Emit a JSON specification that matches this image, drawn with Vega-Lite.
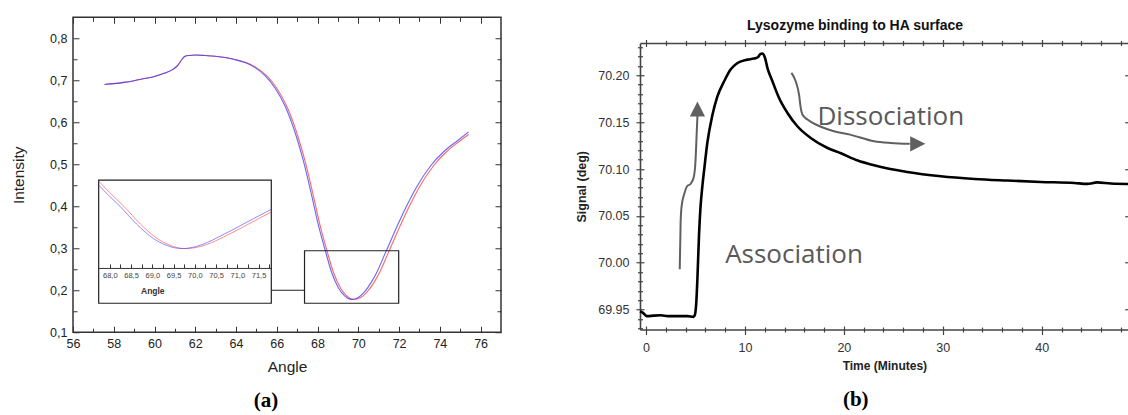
{
 "$schema": "https://vega.github.io/schema/vega-lite/v6.json",
 "background": "white",
 "padding": {"left": 11, "top": 15.25, "right": 0, "bottom": 0},
 "spacing": 72,
 "config": {
  "font": "Liberation Sans",
  "view": {"stroke": null},
  "axis": {"grid": false, "tickColor": "#333", "domainColor": "#333", "labelFlush": false, "labelOverlap": false, "labelBound": false}
 },
 "datasets": {
  "spr": [
   {"series": "red", "angle": 57.55, "intensity": 0.690},
   {"series": "red", "angle": 58.0, "intensity": 0.692},
   {"series": "red", "angle": 58.5, "intensity": 0.695},
   {"series": "red", "angle": 59.0, "intensity": 0.699},
   {"series": "red", "angle": 59.5, "intensity": 0.704},
   {"series": "red", "angle": 60.0, "intensity": 0.709},
   {"series": "red", "angle": 60.5, "intensity": 0.717},
   {"series": "red", "angle": 60.9, "intensity": 0.726},
   {"series": "red", "angle": 61.15, "intensity": 0.736},
   {"series": "red", "angle": 61.35, "intensity": 0.750},
   {"series": "red", "angle": 61.5, "intensity": 0.757},
   {"series": "red", "angle": 61.7, "intensity": 0.759},
   {"series": "red", "angle": 62.0, "intensity": 0.760},
   {"series": "red", "angle": 62.5, "intensity": 0.759},
   {"series": "red", "angle": 63.0, "intensity": 0.757},
   {"series": "red", "angle": 63.5, "intensity": 0.754},
   {"series": "red", "angle": 64.0, "intensity": 0.749},
   {"series": "red", "angle": 64.5, "intensity": 0.742},
   {"series": "red", "angle": 65.0, "intensity": 0.730},
   {"series": "red", "angle": 65.5, "intensity": 0.711},
   {"series": "red", "angle": 66.0, "intensity": 0.681},
   {"series": "red", "angle": 66.5, "intensity": 0.637},
   {"series": "red", "angle": 67.0, "intensity": 0.572},
   {"series": "red", "angle": 67.4, "intensity": 0.505},
   {"series": "red", "angle": 67.85, "intensity": 0.413},
   {"series": "red", "angle": 68.13, "intensity": 0.353},
   {"series": "red", "angle": 68.46, "intensity": 0.294},
   {"series": "red", "angle": 68.79, "intensity": 0.241},
   {"series": "red", "angle": 69.12, "intensity": 0.206},
   {"series": "red", "angle": 69.44, "intensity": 0.186},
   {"series": "red", "angle": 69.77, "intensity": 0.178},
   {"series": "red", "angle": 70.1, "intensity": 0.182},
   {"series": "red", "angle": 70.43, "intensity": 0.196},
   {"series": "red", "angle": 70.75, "intensity": 0.217},
   {"series": "red", "angle": 71.08, "intensity": 0.246},
   {"series": "red", "angle": 71.44, "intensity": 0.286},
   {"series": "red", "angle": 71.9, "intensity": 0.337},
   {"series": "red", "angle": 72.4, "intensity": 0.390},
   {"series": "red", "angle": 73.0, "intensity": 0.446},
   {"series": "red", "angle": 73.7, "intensity": 0.497},
   {"series": "red", "angle": 74.35, "intensity": 0.531},
   {"series": "red", "angle": 75.0, "intensity": 0.556},
   {"series": "red", "angle": 75.41, "intensity": 0.571},
   {"series": "blue", "angle": 57.55, "intensity": 0.690},
   {"series": "blue", "angle": 58.0, "intensity": 0.692},
   {"series": "blue", "angle": 58.5, "intensity": 0.695},
   {"series": "blue", "angle": 59.0, "intensity": 0.699},
   {"series": "blue", "angle": 59.5, "intensity": 0.704},
   {"series": "blue", "angle": 60.0, "intensity": 0.709},
   {"series": "blue", "angle": 60.5, "intensity": 0.717},
   {"series": "blue", "angle": 60.9, "intensity": 0.726},
   {"series": "blue", "angle": 61.15, "intensity": 0.736},
   {"series": "blue", "angle": 61.35, "intensity": 0.750},
   {"series": "blue", "angle": 61.5, "intensity": 0.757},
   {"series": "blue", "angle": 61.7, "intensity": 0.759},
   {"series": "blue", "angle": 62.0, "intensity": 0.760},
   {"series": "blue", "angle": 62.45, "intensity": 0.759},
   {"series": "blue", "angle": 62.95, "intensity": 0.757},
   {"series": "blue", "angle": 63.45, "intensity": 0.754},
   {"series": "blue", "angle": 63.95, "intensity": 0.749},
   {"series": "blue", "angle": 64.44, "intensity": 0.742},
   {"series": "blue", "angle": 64.93, "intensity": 0.730},
   {"series": "blue", "angle": 65.42, "intensity": 0.711},
   {"series": "blue", "angle": 65.92, "intensity": 0.681},
   {"series": "blue", "angle": 66.42, "intensity": 0.637},
   {"series": "blue", "angle": 66.92, "intensity": 0.572},
   {"series": "blue", "angle": 67.32, "intensity": 0.505},
   {"series": "blue", "angle": 67.77, "intensity": 0.413},
   {"series": "blue", "angle": 68.05, "intensity": 0.353},
   {"series": "blue", "angle": 68.38, "intensity": 0.294},
   {"series": "blue", "angle": 68.70, "intensity": 0.241},
   {"series": "blue", "angle": 69.02, "intensity": 0.206},
   {"series": "blue", "angle": 69.34, "intensity": 0.186},
   {"series": "blue", "angle": 69.67, "intensity": 0.178},
   {"series": "blue", "angle": 69.98, "intensity": 0.182},
   {"series": "blue", "angle": 70.3, "intensity": 0.196},
   {"series": "blue", "angle": 70.61, "intensity": 0.217},
   {"series": "blue", "angle": 70.94, "intensity": 0.246},
   {"series": "blue", "angle": 71.3, "intensity": 0.286},
   {"series": "blue", "angle": 71.76, "intensity": 0.337},
   {"series": "blue", "angle": 72.26, "intensity": 0.390},
   {"series": "blue", "angle": 72.86, "intensity": 0.446},
   {"series": "blue", "angle": 73.56, "intensity": 0.497},
   {"series": "blue", "angle": 74.21, "intensity": 0.531},
   {"series": "blue", "angle": 74.86, "intensity": 0.556},
   {"series": "blue", "angle": 75.41, "intensity": 0.577}
  ],
  "inset": [
   {"series": "red", "angle": 67.74, "intensity": 0.436},
   {"series": "red", "angle": 68.0, "intensity": 0.392},
   {"series": "red", "angle": 68.33, "intensity": 0.340},
   {"series": "red", "angle": 68.72, "intensity": 0.272},
   {"series": "red", "angle": 69.12, "intensity": 0.216},
   {"series": "red", "angle": 69.4, "intensity": 0.192},
   {"series": "red", "angle": 69.6, "intensity": 0.181},
   {"series": "red", "angle": 69.78, "intensity": 0.178},
   {"series": "red", "angle": 69.95, "intensity": 0.180},
   {"series": "red", "angle": 70.13, "intensity": 0.1857},
   {"series": "red", "angle": 70.4, "intensity": 0.201},
   {"series": "red", "angle": 70.68, "intensity": 0.2225},
   {"series": "red", "angle": 71.0, "intensity": 0.249},
   {"series": "red", "angle": 71.24, "intensity": 0.270},
   {"series": "red", "angle": 71.5, "intensity": 0.2925},
   {"series": "red", "angle": 71.8, "intensity": 0.3184},
   {"series": "blue", "angle": 67.74, "intensity": 0.421},
   {"series": "blue", "angle": 67.91, "intensity": 0.392},
   {"series": "blue", "angle": 68.24, "intensity": 0.340},
   {"series": "blue", "angle": 68.63, "intensity": 0.272},
   {"series": "blue", "angle": 69.03, "intensity": 0.216},
   {"series": "blue", "angle": 69.31, "intensity": 0.192},
   {"series": "blue", "angle": 69.52, "intensity": 0.181},
   {"series": "blue", "angle": 69.71, "intensity": 0.178},
   {"series": "blue", "angle": 69.86, "intensity": 0.180},
   {"series": "blue", "angle": 70.03, "intensity": 0.1857},
   {"series": "blue", "angle": 70.29, "intensity": 0.201},
   {"series": "blue", "angle": 70.56, "intensity": 0.2225},
   {"series": "blue", "angle": 70.88, "intensity": 0.249},
   {"series": "blue", "angle": 71.12, "intensity": 0.270},
   {"series": "blue", "angle": 71.38, "intensity": 0.2925},
   {"series": "blue", "angle": 71.68, "intensity": 0.3184},
   {"series": "blue", "angle": 71.8, "intensity": 0.329}
  ],
  "boxes": [
   {"x1": 57.26, "x2": 65.73, "y1": 0.169, "y2": 0.462},
   {"x1": 67.36, "x2": 71.98, "y1": 0.169, "y2": 0.294}
  ],
  "link": [
   {"x1": 65.73, "x2": 67.36, "y": 0.2}
  ],
  "signal": [
   {"t": -0.6, "s": 69.9482},
   {"t": -0.3, "s": 69.9465},
   {"t": 0.1, "s": 69.943},
   {"t": 0.8, "s": 69.9436},
   {"t": 1.5, "s": 69.9439},
   {"t": 2.2, "s": 69.943},
   {"t": 3.0, "s": 69.943},
   {"t": 4.2, "s": 69.943},
   {"t": 4.8, "s": 69.9422},
   {"t": 4.95, "s": 69.9447},
   {"t": 5.09, "s": 69.9589},
   {"t": 5.2, "s": 69.984},
   {"t": 5.36, "s": 70.03},
   {"t": 5.5, "s": 70.058},
   {"t": 5.7, "s": 70.082},
   {"t": 5.9, "s": 70.101},
   {"t": 6.2, "s": 70.128},
   {"t": 6.7, "s": 70.157},
   {"t": 7.2, "s": 70.177},
   {"t": 7.9, "s": 70.1936},
   {"t": 8.55, "s": 70.2061},
   {"t": 9.25, "s": 70.2131},
   {"t": 10.25, "s": 70.2167},
   {"t": 10.9, "s": 70.2178},
   {"t": 11.3, "s": 70.2192},
   {"t": 11.55, "s": 70.2225},
   {"t": 11.75, "s": 70.2232},
   {"t": 12.0, "s": 70.2195},
   {"t": 12.27, "s": 70.208},
   {"t": 12.78, "s": 70.1936},
   {"t": 13.45, "s": 70.1758},
   {"t": 14.3, "s": 70.1598},
   {"t": 15.3, "s": 70.1456},
   {"t": 16.65, "s": 70.1331},
   {"t": 18.35, "s": 70.1224},
   {"t": 19.7, "s": 70.1168},
   {"t": 21.4, "s": 70.109},
   {"t": 23.05, "s": 70.104},
   {"t": 26.4, "s": 70.0968},
   {"t": 29.8, "s": 70.0922},
   {"t": 33.2, "s": 70.0894},
   {"t": 36.5, "s": 70.0877},
   {"t": 39.9, "s": 70.0862},
   {"t": 43.3, "s": 70.0851},
   {"t": 44.6, "s": 70.0841},
   {"t": 45.6, "s": 70.0857},
   {"t": 47.0, "s": 70.0845},
   {"t": 49.0, "s": 70.084}
  ],
  "arrows": [
   {"arrow": "association", "t": 3.41, "s": 69.993},
   {"arrow": "association", "t": 3.5, "s": 70.044},
   {"arrow": "association", "t": 3.62, "s": 70.062},
   {"arrow": "association", "t": 3.85, "s": 70.0727},
   {"arrow": "association", "t": 4.15, "s": 70.0816},
   {"arrow": "association", "t": 4.5, "s": 70.084},
   {"arrow": "association", "t": 4.82, "s": 70.091},
   {"arrow": "association", "t": 5.0, "s": 70.108},
   {"arrow": "association", "t": 5.12, "s": 70.137},
   {"arrow": "association", "t": 5.2, "s": 70.157},
   {"arrow": "dissociation", "t": 14.7, "s": 70.2025},
   {"arrow": "dissociation", "t": 15.13, "s": 70.1936},
   {"arrow": "dissociation", "t": 15.47, "s": 70.1794},
   {"arrow": "dissociation", "t": 15.64, "s": 70.1651},
   {"arrow": "dissociation", "t": 15.81, "s": 70.1581},
   {"arrow": "dissociation", "t": 16.32, "s": 70.1527},
   {"arrow": "dissociation", "t": 17.33, "s": 70.1467},
   {"arrow": "dissociation", "t": 19.0, "s": 70.1403},
   {"arrow": "dissociation", "t": 20.62, "s": 70.1367},
   {"arrow": "dissociation", "t": 23.05, "s": 70.1296},
   {"arrow": "dissociation", "t": 24.74, "s": 70.1278},
   {"arrow": "dissociation", "t": 26.66, "s": 70.1269}
  ],
  "heads": [
   {"arrow": "up", "t": 5.2, "s": 70.164},
   {"arrow": "right", "t": 27.47, "s": 70.1269}
  ],
  "notes": [
   {"label": "Association", "t": 8.0, "s": 70.0},
   {"label": "Dissociation", "t": 17.33, "s": 70.1474}
  ]
 },
 "hconcat": [
  {
   "width": 428,
   "height": 315,
   "view": {"stroke": "#333", "strokeWidth": 1.5},
   "title": {"text": "(a)", "orient": "bottom", "anchor": "middle", "frame": "group", "dx": -21, "offset": 15, "font": "Liberation Serif", "fontSize": 21, "fontWeight": "bold", "color": "#000"},
   "resolve": {"scale": {"x": "independent", "y": "independent"}},
   "layer": [
    {
     "resolve": {"axis": {"x": "independent", "y": "independent"}},
     "layer": [
      {
       "data": {"name": "spr"},
       "transform": [{"filter": "datum.series === 'red'"}],
       "mark": {"type": "line", "color": "#ff4040", "strokeWidth": 1.1, "opacity": 0.8, "interpolate": "monotone"},
       "encoding": {
        "x": {"field": "angle", "type": "quantitative", "scale": {"domain": [56, 77], "nice": false, "zero": false},
         "axis": {"orient": "bottom", "values": [56, 58, 60, 62, 64, 66, 68, 70, 72, 74, 76], "domain": false, "offset": -6, "tickSize": 6, "labelPadding": 5, "labelFontSize": 12.5, "labelColor": "#222", "title": "Angle", "titleFontSize": 15.5, "titleFontWeight": "normal", "titleColor": "#222", "titlePadding": 10}},
        "y": {"field": "intensity", "type": "quantitative", "scale": {"domain": [0.1, 0.85], "nice": false, "zero": false},
         "axis": {"orient": "left", "values": [0.1, 0.2, 0.3, 0.4, 0.5, 0.6, 0.7, 0.8], "domain": false, "offset": -6, "tickSize": 6, "labelPadding": 6, "labelExpr": "replace(format(datum.value, '.1f'), '.', ',')", "labelFontSize": 12.5, "labelColor": "#222", "title": "Intensity", "titleFontSize": 15.5, "titleFontWeight": "normal", "titleColor": "#222", "titlePadding": 22.7}}
       }
      },
      {
       "data": {"name": "spr"},
       "transform": [{"filter": "datum.series === 'blue'"}],
       "mark": {"type": "line", "color": "#4040ff", "strokeWidth": 1.1, "opacity": 0.8, "interpolate": "monotone"},
       "encoding": {
        "x": {"field": "angle", "type": "quantitative", "scale": {"domain": [56, 77], "nice": false, "zero": false},
         "axis": {"orient": "bottom", "values": [57, 59, 61, 63, 65, 67, 69, 71, 73, 75], "domain": false, "offset": -4, "tickSize": 4, "labels": false, "title": null}},
        "y": {"field": "intensity", "type": "quantitative", "scale": {"domain": [0.1, 0.85], "nice": false, "zero": false},
         "axis": {"orient": "left", "values": [0.15, 0.25, 0.35, 0.45, 0.55, 0.65, 0.75], "domain": false, "offset": -4, "tickSize": 4, "labels": false, "title": null}}
       }
      },
      {
       "data": {"name": "boxes"},
       "mark": {"type": "rect", "fill": "white", "fillOpacity": 0, "stroke": "#222", "strokeWidth": 1.2},
       "encoding": {
        "x": {"field": "x1", "type": "quantitative", "scale": {"domain": [56, 77], "nice": false, "zero": false},
         "axis": {"orient": "top", "values": [56, 58, 60, 62, 64, 66, 68, 70, 72, 74, 76], "domain": false, "offset": -6, "tickSize": 6, "labels": false, "title": null}},
        "x2": {"field": "x2"},
        "y": {"field": "y1", "type": "quantitative", "scale": {"domain": [0.1, 0.85], "nice": false, "zero": false},
         "axis": {"orient": "right", "values": [0.1, 0.2, 0.3, 0.4, 0.5, 0.6, 0.7, 0.8], "domain": false, "offset": -6, "tickSize": 6, "labels": false, "title": null}},
        "y2": {"field": "y2"}
       }
      },
      {
       "data": {"name": "link"},
       "mark": {"type": "rule", "color": "#222", "strokeWidth": 1.2},
       "encoding": {
        "x": {"field": "x1", "type": "quantitative", "scale": {"domain": [56, 77], "nice": false, "zero": false},
         "axis": {"orient": "top", "values": [57, 59, 61, 63, 65, 67, 69, 71, 73, 75], "domain": false, "offset": -4, "tickSize": 4, "labels": false, "title": null}},
        "x2": {"field": "x2"},
        "y": {"field": "y", "type": "quantitative", "scale": {"domain": [0.1, 0.85], "nice": false, "zero": false},
         "axis": {"orient": "right", "values": [0.15, 0.25, 0.35, 0.45, 0.55, 0.65, 0.75], "domain": false, "offset": -4, "tickSize": 4, "labels": false, "title": null}}
       }
      }
     ]
    },
    {
     "resolve": {"axis": {"x": "independent"}},
     "layer": [
      {
       "data": {"name": "inset"},
       "transform": [{"filter": "datum.series === 'red'"}],
       "mark": {"type": "line", "color": "#ff4040", "strokeWidth": 1, "opacity": 0.6, "interpolate": "monotone"},
       "encoding": {
        "x": {"field": "angle", "type": "quantitative", "scale": {"domain": [67.736, 71.8], "range": [25.6, 198.3], "nice": false, "zero": false},
         "axis": {"orient": "bottom", "offset": -64.3, "values": [68, 68.5, 69, 69.5, 70, 70.5, 71, 71.5], "domain": true, "domainColor": "#333", "domainWidth": 1, "ticks": false, "labelPadding": 4, "labelFontSize": 7.5, "labelColor": "#444", "labelExpr": "replace(format(datum.value, '.1f'), '.', ',')", "title": "Angle", "titleFontSize": 8.5, "titleFontWeight": "bold", "titleColor": "#333", "titleX": 79.3, "titleY": 22.6, "titleAlign": "center", "titleBaseline": "middle"}},
        "y": {"field": "intensity", "type": "quantitative", "scale": {"domain": [0.1036, 0.44], "range": [250.7, 163], "nice": false, "zero": false}, "axis": null}
       }
      },
      {
       "data": {"name": "inset"},
       "transform": [{"filter": "datum.series === 'blue'"}],
       "mark": {"type": "line", "color": "#4040ff", "strokeWidth": 1, "opacity": 0.6, "interpolate": "monotone"},
       "encoding": {
        "x": {"field": "angle", "type": "quantitative", "scale": {"domain": [67.736, 71.8], "range": [25.6, 198.3], "nice": false, "zero": false},
         "axis": {"orient": "bottom", "offset": -68.3, "values": [68, 68.25, 68.5, 68.75, 69, 69.25, 69.5, 69.75, 70, 70.25, 70.5, 70.75, 71, 71.25, 71.5, 71.75], "domain": false, "tickSize": 4, "labels": false, "title": null}},
        "y": {"field": "intensity", "type": "quantitative", "scale": {"domain": [0.1036, 0.44], "range": [250.7, 163], "nice": false, "zero": false}, "axis": null}
       }
      }
     ]
    }
   ]
  },
  {
   "width": 488.7,
   "height": 312.3,
   "title": {"text": "(b)", "orient": "bottom", "anchor": "middle", "frame": "group", "dx": -28.6, "offset": 18, "font": "Liberation Serif", "fontSize": 21, "fontWeight": "bold", "color": "#000"},
   "resolve": {"axis": {"x": "independent", "y": "independent"}},
   "layer": [
    {
     "data": {"name": "signal"},
     "mark": {"type": "line", "color": "#000", "strokeWidth": 2.6, "interpolate": "monotone"},
     "encoding": {
      "x": {"field": "t", "type": "quantitative", "scale": {"domain": [-0.607, 48.79], "nice": false, "zero": false},
       "axis": {"orient": "bottom", "values": [0, 10, 20, 30, 40], "domain": true, "domainColor": "#444", "domainWidth": 1.6, "ticks": false, "labelPadding": 12, "labelFontSize": 12.5, "labelColor": "#333", "title": "Time (Minutes)", "titleFontSize": 12, "titleFontWeight": "bold", "titleColor": "#222", "titlePadding": 6}},
      "y": {"field": "s", "type": "quantitative", "scale": {"domain": [69.9287, 70.2345], "range": [312.3, 25.7], "nice": false, "zero": false},
       "axis": {"orient": "left", "values": [69.95, 70, 70.05, 70.1, 70.15, 70.2], "format": ".2f", "domain": true, "domainColor": "#444", "domainWidth": 1.6, "ticks": false, "labelPadding": 11, "labelFontSize": 12.5, "labelColor": "#333", "title": "Signal (deg)", "titleFontSize": 12.5, "titleFontWeight": "bold", "titleColor": "#222", "titlePadding": 9}}
     }
    },
    {
     "data": {"name": "arrows"},
     "transform": [{"filter": "datum.arrow === 'association'"}],
     "mark": {"type": "line", "color": "#606060", "strokeWidth": 2, "interpolate": "monotone"},
     "encoding": {
      "x": {"field": "t", "type": "quantitative", "scale": {"domain": [-0.607, 48.79], "nice": false, "zero": false},
       "axis": {"orient": "bottom", "values": [0, 10, 20, 30, 40], "domain": false, "offset": -3.5, "tickSize": 8.5, "tickColor": "#444", "tickWidth": 1.2, "labels": false, "title": null}},
      "y": {"field": "s", "type": "quantitative", "scale": {"domain": [69.9287, 70.2345], "range": [312.3, 25.7], "nice": false, "zero": false},
       "axis": {"orient": "left", "values": [69.95, 70, 70.05, 70.1, 70.15, 70.2], "domain": false, "offset": -4, "tickSize": 8, "tickColor": "#444", "tickWidth": 1.2, "labels": false, "title": null}}
     }
    },
    {
     "data": {"name": "arrows"},
     "transform": [{"filter": "datum.arrow === 'dissociation'"}],
     "mark": {"type": "line", "color": "#606060", "strokeWidth": 2, "interpolate": "monotone"},
     "encoding": {
      "x": {"field": "t", "type": "quantitative", "scale": {"domain": [-0.607, 48.79], "nice": false, "zero": false},
       "axis": {"orient": "bottom", "values": [2, 4, 6, 8, 12, 14, 16, 18, 22, 24, 26, 28, 32, 34, 36, 38, 42, 44, 46, 48], "domain": false, "offset": -2.5, "tickSize": 5, "tickColor": "#444", "tickWidth": 1.2, "labels": false, "title": null}},
      "y": {"field": "s", "type": "quantitative", "scale": {"domain": [69.9287, 70.2345], "range": [312.3, 25.7], "nice": false, "zero": false},
       "axis": {"orient": "left", "values": [69.93, 69.94, 69.96, 69.97, 69.98, 69.99, 70.01, 70.02, 70.03, 70.04, 70.06, 70.07, 70.08, 70.09, 70.11, 70.12, 70.13, 70.14, 70.16, 70.17, 70.18, 70.19, 70.21, 70.22, 70.23], "domain": false, "offset": -2.5, "tickSize": 5, "tickColor": "#444", "tickWidth": 1.2, "labels": false, "title": null}}
     }
    },
    {
     "data": {"name": "heads"},
     "mark": {"type": "point", "filled": true, "color": "#606060", "size": 230, "opacity": 1},
     "encoding": {
      "x": {"field": "t", "type": "quantitative", "scale": {"domain": [-0.607, 48.79], "nice": false, "zero": false},
       "axis": {"orient": "top", "offset": -25.7, "domain": true, "domainColor": "#444", "domainWidth": 1.6, "ticks": false, "labels": false, "title": "Lysozyme binding to HA surface", "titleFontSize": 14, "titleFontWeight": "bold", "titleColor": "#111", "titleX": 214.5, "titleY": -17.4, "titleAlign": "center", "titleBaseline": "middle"}},
      "y": {"field": "s", "type": "quantitative", "scale": {"domain": [69.9287, 70.2345], "range": [312.3, 25.7], "nice": false, "zero": false},
       "axis": {"orient": "right", "values": [69.95, 70, 70.05, 70.1, 70.15, 70.2], "domain": false, "offset": -4, "tickSize": 8, "tickColor": "#444", "tickWidth": 1.2, "labels": false, "title": null}},
      "shape": {"field": "arrow", "type": "nominal", "scale": {"domain": ["up", "right"], "range": ["M-1,1L0,-1L1,1Z", "M-1,-1L1,0L-1,1Z"]}, "legend": null}
     }
    },
    {
     "data": {"name": "notes"},
     "transform": [{"filter": "datum.label === 'Association'"}],
     "mark": {"type": "text", "align": "left", "baseline": "alphabetic", "font": "Open Sans", "fontSize": 26, "color": "#595959"},
     "encoding": {
      "x": {"field": "t", "type": "quantitative", "scale": {"domain": [-0.607, 48.79], "nice": false, "zero": false},
       "axis": {"orient": "top", "values": [0, 10, 20, 30, 40], "domain": false, "offset": -29.2, "tickSize": 7, "tickColor": "#444", "tickWidth": 1.2, "labels": false, "title": null}},
      "y": {"field": "s", "type": "quantitative", "scale": {"domain": [69.9287, 70.2345], "range": [312.3, 25.7], "nice": false, "zero": false}, "axis": null},
      "text": {"field": "label"}
     }
    },
    {
     "data": {"name": "notes"},
     "transform": [{"filter": "datum.label === 'Dissociation'"}],
     "mark": {"type": "text", "align": "left", "baseline": "alphabetic", "font": "Open Sans", "fontSize": 26, "color": "#595959"},
     "encoding": {
      "x": {"field": "t", "type": "quantitative", "scale": {"domain": [-0.607, 48.79], "nice": false, "zero": false},
       "axis": {"orient": "top", "values": [2, 4, 6, 8, 12, 14, 16, 18, 22, 24, 26, 28, 32, 34, 36, 38, 42, 44, 46, 48], "domain": false, "offset": -28.2, "tickSize": 5, "tickColor": "#444", "tickWidth": 1.2, "labels": false, "title": null}},
      "y": {"field": "s", "type": "quantitative", "scale": {"domain": [69.9287, 70.2345], "range": [312.3, 25.7], "nice": false, "zero": false}, "axis": null},
      "text": {"field": "label"}
     }
    }
   ]
  }
 ]
}
